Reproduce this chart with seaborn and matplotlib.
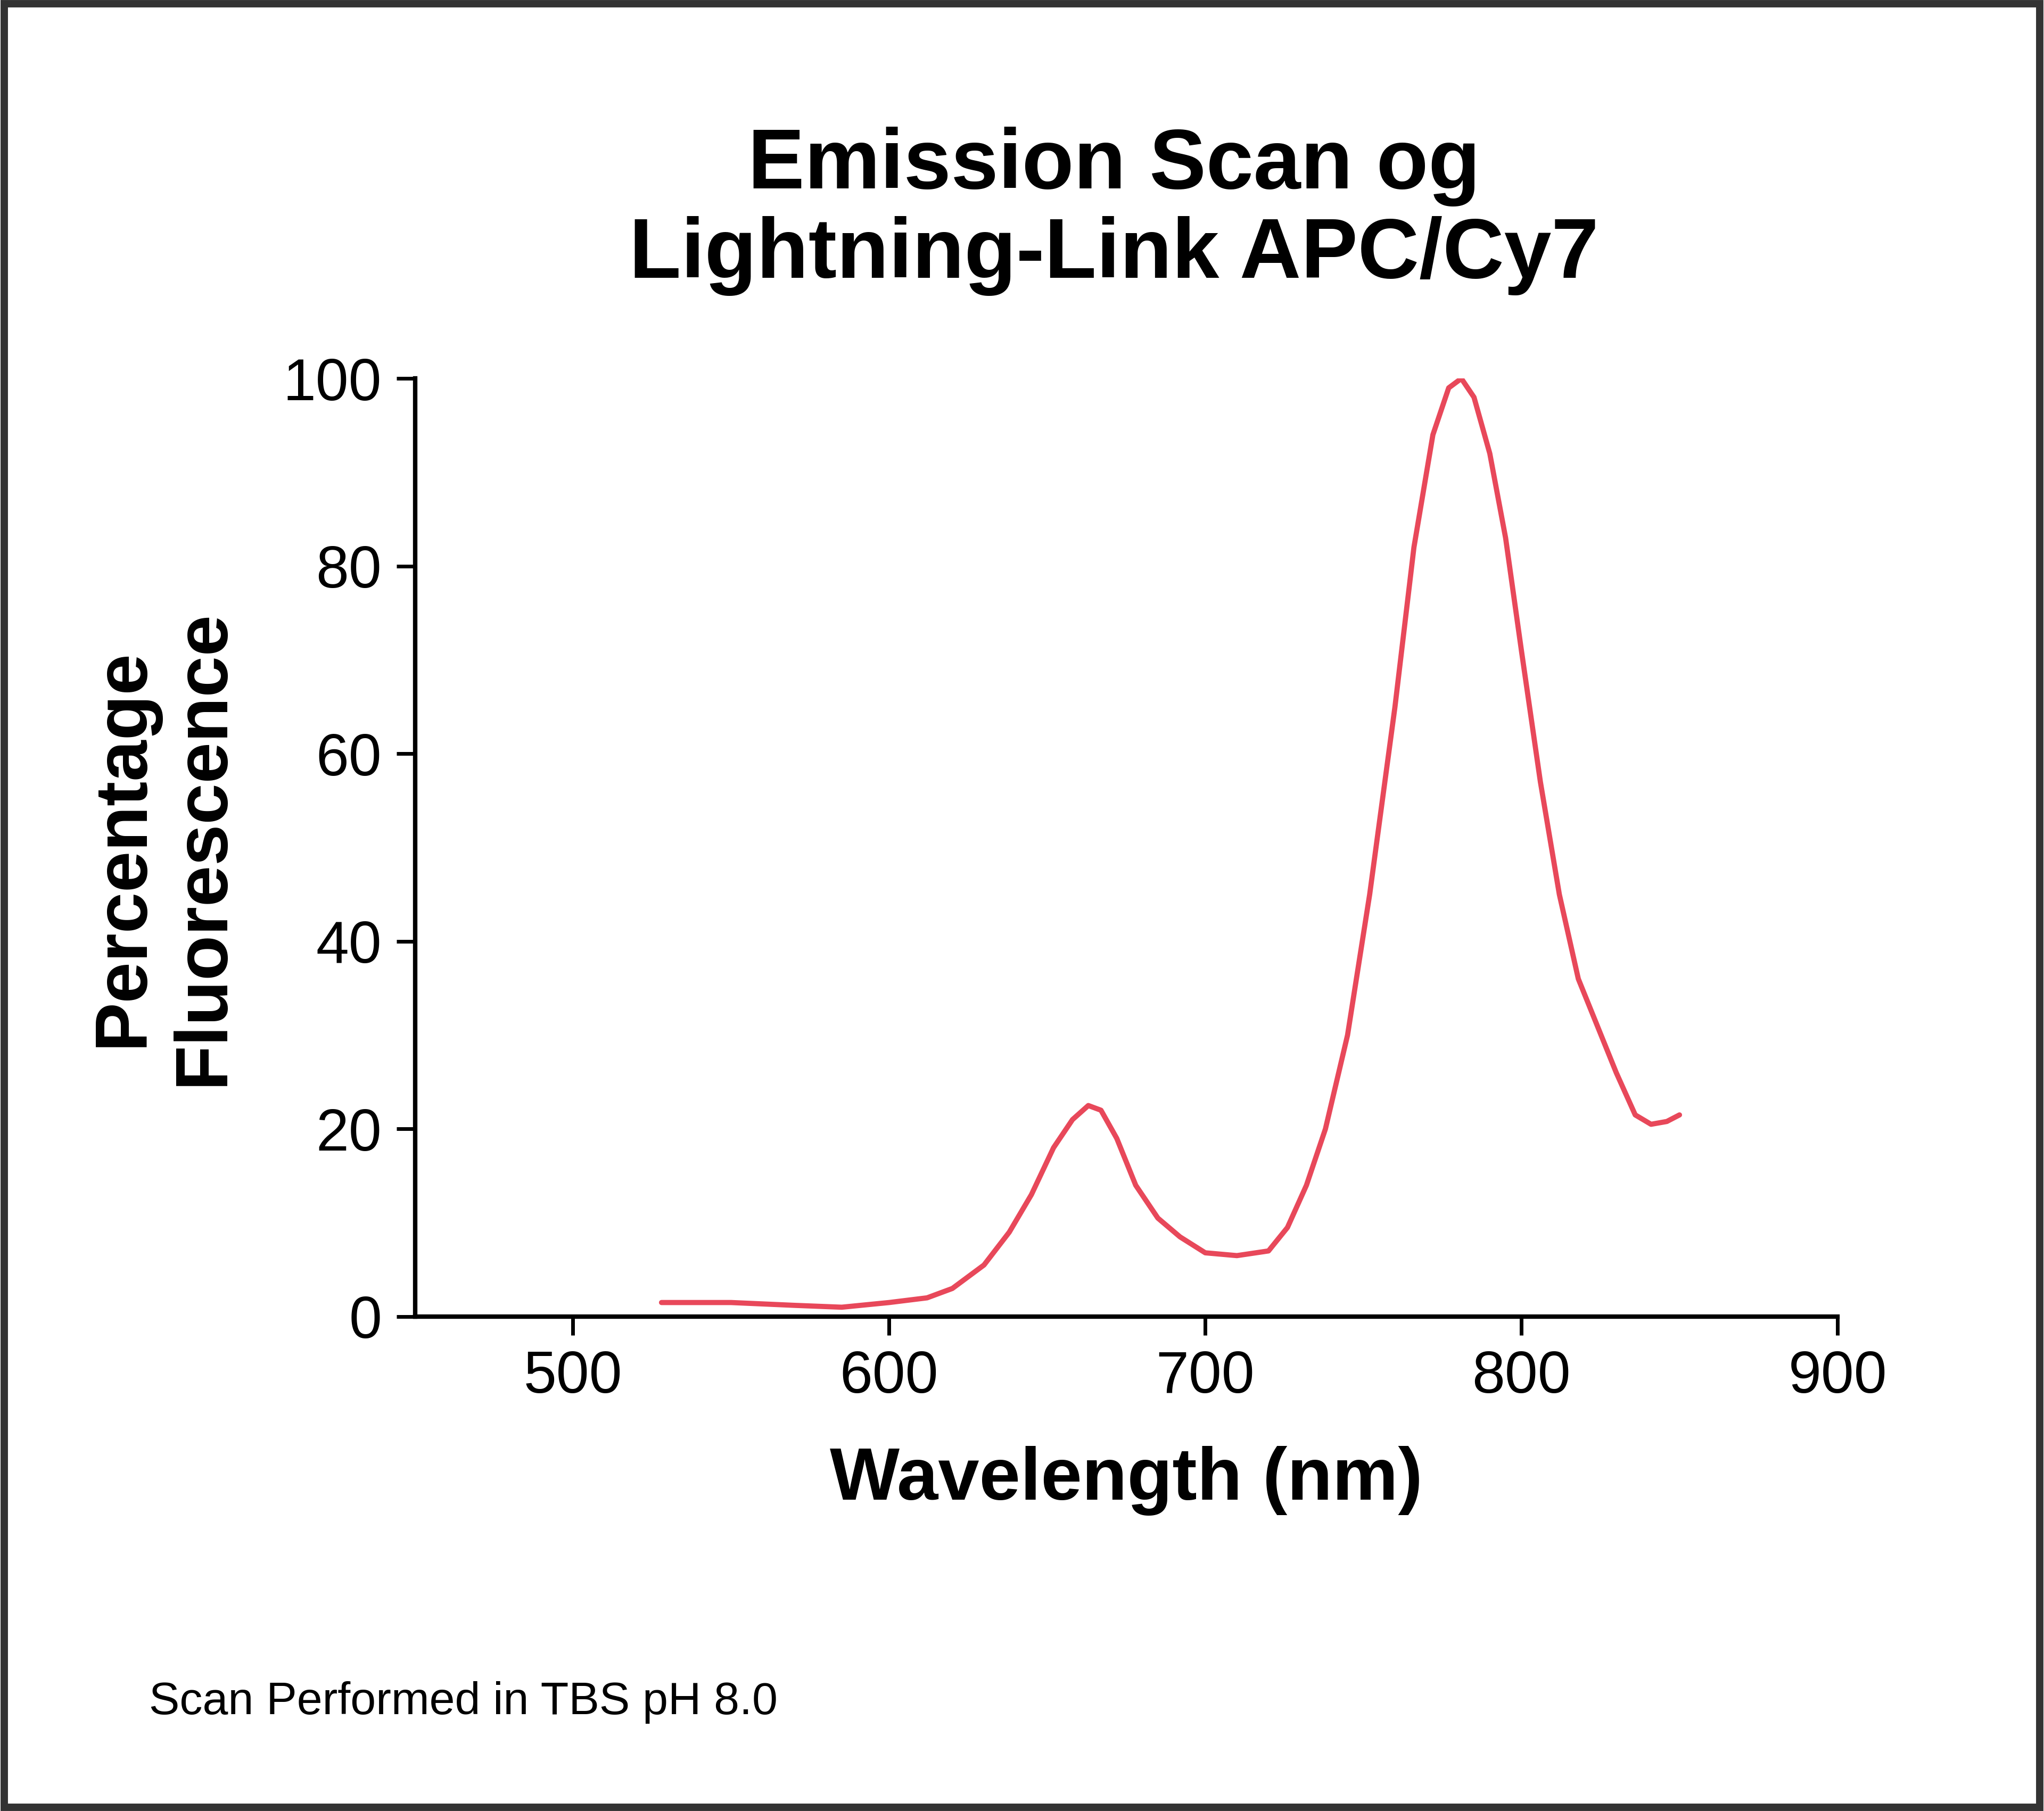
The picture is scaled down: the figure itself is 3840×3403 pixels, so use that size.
import matplotlib
matplotlib.use("Agg")
import matplotlib.pyplot as plt
import seaborn as sns
import pandas as pd

wavelength = [528, 550, 570, 585, 600, 612, 620, 630, 638, 645, 652, 658, 663, 667, 672,
              678, 685, 692, 700, 710, 720, 726, 732, 738, 745, 752, 760, 766, 772, 777,
              781, 785, 790, 795, 800, 806, 812, 818, 824, 830, 836, 841, 846, 850]
fluorescence = [1.5, 1.5, 1.2, 1.0, 1.5, 2.0, 3.0, 5.5, 9.0, 13, 18, 21, 22.5, 22, 19,
                14, 10.5, 8.5, 6.8, 6.5, 7.0, 9.5, 14, 20, 30, 45, 65, 82, 94, 99,
                100, 98, 92, 83, 71, 57, 45, 36, 31, 26, 21.5, 20.5, 20.8, 21.5]
x_ticks = [500, 600, 700, 800, 900]
y_ticks = [0, 20, 40, 60, 80, 100]

df = pd.DataFrame({"wl": wavelength, "fl": fluorescence})

sns.set_style("ticks")
plt.rcParams['font.family'] = ['Liberation Sans', 'DejaVu Sans']
plt.rcParams['text.color'] = 'black'
plt.rcParams['axes.labelcolor'] = 'black'
plt.rcParams['xtick.color'] = 'black'
plt.rcParams['ytick.color'] = 'black'
plt.rcParams['axes.edgecolor'] = 'black'

fig = plt.figure(figsize=(38.4, 34.03), dpi=100)
ax = fig.add_axes([0.203, 0.273, 0.696, 0.518])

sns.lineplot(data=df, x="wl", y="fl", ax=ax, color="#e8485a", linewidth=7)

ax.set_xlim(450, 900)
ax.set_ylim(0, 100)
ax.set_xticks(x_ticks)
ax.set_yticks(y_ticks)
ax.tick_params(labelsize=80, width=5, length=25, direction='out', pad=20)
for s in ["top", "right"]:
    ax.spines[s].set_visible(False)
for s in ["left", "bottom"]:
    ax.spines[s].set_linewidth(6)

ax.set_xlabel("Wavelength (nm)", fontsize=100, fontweight='bold', labelpad=55)
ax.set_ylabel("Percentage\nFluorescence", fontsize=100, fontweight='bold', labelpad=60)

fig.text(0.545, 0.93, "Emission Scan og\nLightning-Link APC/Cy7", ha='center', va='top',
         fontsize=115, fontweight='bold', linespacing=1.15)
fig.text(0.073, 0.06, "Scan Performed in TBS pH 8.0", fontsize=62, ha='left', va='center')

fig.add_artist(plt.Rectangle((0.002, 0.002), 0.996, 0.996, transform=fig.transFigure,
                             fill=False, edgecolor='#333333', linewidth=10))

fig.savefig("out.png", dpi=100)
